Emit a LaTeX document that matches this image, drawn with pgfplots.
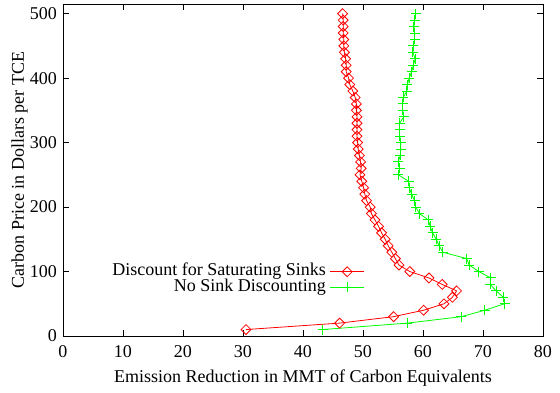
\documentclass[border=0pt]{standalone}
\usepackage{pgfplots}
\pgfplotsset{compat=1.18}
\usepackage{fontspec}
\setmainfont{Liberation Serif}
\definecolor{gpred}{rgb}{1,0,0}
\definecolor{gpgreen}{rgb}{0,1,0}
\begin{document}
\fontsize{18}{21}\selectfont
\begin{tikzpicture}
\begin{axis}[
  scale only axis, width=480pt, height=332pt,
  xmin=0, xmax=80, ymin=0, ymax=515,
  xtick={0,10,...,80}, ytick={0,100,...,500},
  /pgf/number format/assume math mode=true,
  tick label style={font=\fontsize{18}{21}\selectfont},
  xticklabel style={yshift=-3pt},
  label style={font=\fontsize{18}{21}\selectfont},
  major tick length=6pt,
  tick style={black, line width=0.6pt},
  axis line style={black, line width=0.8pt},
  xlabel={Emission Reduction in MMT of Carbon Equivalents},
  ylabel={Carbon Price in Dollars per TCE},
  xlabel style={yshift=0pt},
  ylabel style={yshift=-10pt},
  legend style={draw=none, fill=none, at={(axis description cs:0.635,0.17)}, anchor=east,
    font=\fontsize{18}{21}\selectfont,
    nodes={inner sep=0pt, text height=12pt, text depth=3.6pt}, row sep=0pt, column sep=4pt},
  legend cell align=right,
  legend plot pos=right,
  legend image code/.code={\draw[mark repeat=2,mark phase=2] plot coordinates {(0pt,0pt) (17pt,0pt) (34pt,0pt)};},
]
\addplot[gpred, line width=0.8pt, mark=square, mark size=3.5pt, mark options={rotate=45, solid, line width=0.8pt}] coordinates {
(30.5,10) (46.1,20) (55.1,30) (60.1,40) (63.5,50) (64.9,60) (65.6,70) (63.2,80) (61.0,90) (57.8,100)
(56.0,110) (55.4,120) (54.8,130) (54.2,140) (53.7,150) (53.1,160) (52.6,170) (52.0,180) (51.4,190) (51.2,200)
(50.6,210) (50.3,220) (50.1,230) (49.8,240) (49.5,250) (49.7,260) (49.6,270) (49.4,280) (49.2,290) (49.1,300)
(49.0,310) (49.0,320) (49.0,330) (49.0,340) (48.9,350) (48.9,360) (48.7,370) (48.3,380) (47.8,390) (47.6,400)
(47.2,410) (47.2,420) (47.1,430) (46.9,440) (46.8,450) (46.8,460) (46.7,470) (46.7,480) (46.7,490) (46.6,500)
};
\addlegendentry{Discount for Saturating Sinks}
\addplot[gpgreen, line width=0.8pt, mark=+, mark size=5pt, mark options={solid, line width=1pt}] coordinates {
(43.3,10) (57.4,20) (66.4,30) (70.3,40) (73.6,50) (73.4,60) (72.2,70) (71.2,80) (71.3,90) (69.3,100)
(67.7,110) (67.3,120) (63.3,130) (62.7,140) (62.2,150) (61.6,160) (61.2,170) (60.9,180) (59.4,190) (58.8,200)
(58.6,210) (58.1,220) (57.7,230) (57.6,240) (55.9,250) (56.1,260) (55.9,270) (56.2,280) (56.3,290) (56.3,300)
(56.1,310) (56.1,320) (56.1,330) (56.8,340) (56.6,350) (56.6,360) (56.7,370) (57.3,380) (57.4,390) (57.7,400)
(58.1,410) (58.4,420) (58.7,430) (58.3,440) (58.4,450) (58.6,460) (58.6,470) (58.5,480) (58.6,490) (58.8,500)
};
\addlegendentry{No Sink Discounting}
\end{axis}
\path (-63pt,-56pt) rectangle ++(560pt,392pt);
\end{tikzpicture}
\end{document}
